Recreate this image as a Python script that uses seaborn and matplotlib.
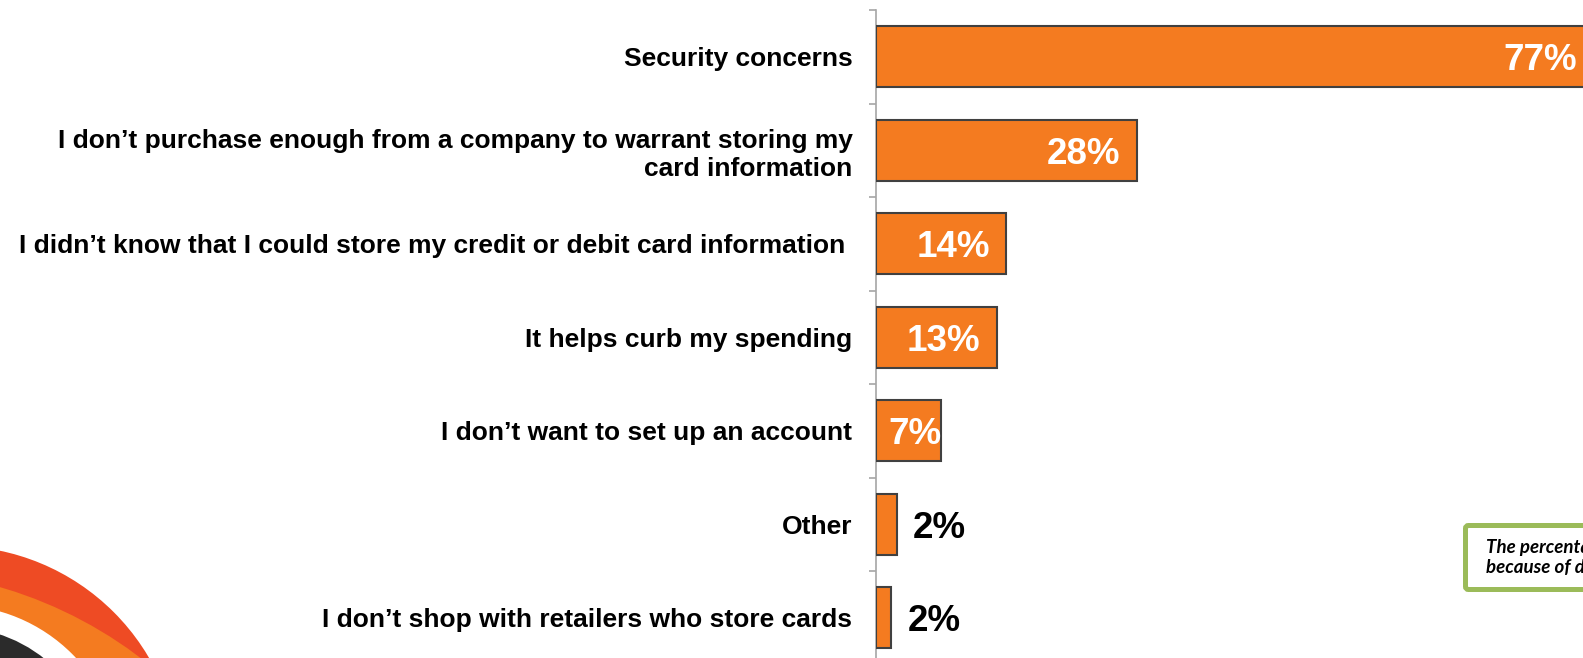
import numpy as np
import pandas as pd
import matplotlib
matplotlib.use("Agg")
import matplotlib.pyplot as plt
from matplotlib.patches import Circle, FancyBboxPatch
import seaborn as sns

# Survey answers: reasons for not storing card details with online retailers
reasons = [
    "Security concerns",
    "I don\u2019t purchase enough from a company to warrant storing my\ncard information",
    "I didn\u2019t know that I could store my credit or debit card information ",
    "It helps curb my spending",
    "I don\u2019t want to set up an account",
    "Other",
    "I don\u2019t shop with retailers who store cards",
]
shares = [77, 28, 14, 13, 7, 2.2, 1.6]

note_lines = ["The percentages add up to more than 100%",
              "because of duplicate responses"]

ORANGE = "#F47B20"
EDGE = "#404040"
AXIS_GREY = "#A6A6A6"
NOTE_GREEN = "#9BBB59"

sns.set_style("white")
plt.rcParams["font.family"] = ["Liberation Sans", "DejaVu Sans"]

W, H = 1583, 658
fig = plt.figure(figsize=(W / 100, H / 100), dpi=100)
fig.patch.set_facecolor("white")

# plot area: x = 0 sits at 876 px, 9.32 px per percentage point; rows 93.5 px apart
x0_px, px_per_pct, top_px, row_px = 876, 9.32, 10, 93.5
xmax = 80
ax_w = xmax * px_per_pct
ax_h = row_px * len(reasons)
ax = fig.add_axes([x0_px / W, 1 - (top_px + ax_h) / H, ax_w / W, ax_h / H])

df = pd.DataFrame({"reason": reasons, "share": shares})
sns.barplot(data=df, x="share", y="reason", orient="h", color=ORANGE,
            saturation=1, edgecolor=EDGE, linewidth=1.5, width=0.65, ax=ax)

ax.set_xlim(0, xmax)
ax.set_ylim(len(reasons) - 0.5, -0.5)
ax.set_xlabel("")
ax.set_ylabel("")
ax.set_xticks([])
for side in ("top", "right", "bottom"):
    ax.spines[side].set_visible(False)
ax.spines["left"].set_color(AXIS_GREY)
ax.spines["left"].set_linewidth(1.2)
ax.spines["left"].set_zorder(0.5)

ax.set_yticks(range(len(reasons)))
ax.set_yticks(np.arange(-0.5, len(reasons), 1.0), minor=True)
ax.tick_params(axis="y", which="major", left=False, length=0, pad=17)
ax.tick_params(axis="y", which="minor", left=True, length=5, width=1.2,
               color=AXIS_GREY, direction="out")
for lbl in ax.get_yticklabels():
    lbl.set_fontsize(19)
    lbl.set_fontweight("bold")
    lbl.set_color("black")

# value labels: inside the bar end for long bars, outside for short ones
VAL_SIZE = 26.5
for bar, v in zip(ax.patches, shares):
    yc = bar.get_y() + bar.get_height() / 2
    txt = f"{v:.0f}%"
    if v >= 10:
        ax.annotate(txt, (bar.get_width(), yc), xytext=(-12, 0),
                    textcoords="offset points", ha="right", va="center_baseline",
                    color="white", fontsize=VAL_SIZE, fontweight="bold")
    elif v >= 5:
        ax.annotate(txt, (0, yc), xytext=(9, 0),
                    textcoords="offset points", ha="left", va="center_baseline",
                    color="white", fontsize=VAL_SIZE, fontweight="bold")
    else:
        ax.annotate(txt, (bar.get_width(), yc), xytext=(12, 0),
                    textcoords="offset points", ha="left", va="center_baseline",
                    color="black", fontsize=VAL_SIZE, fontweight="bold")

# decoration layer in pixel units: corner logo and the footnote box
deco = fig.add_axes([0, 0, 1, 1], zorder=5)
deco.set_xlim(0, W)
deco.set_ylim(H, 0)
deco.axis("off")
deco.patch.set_visible(False)

deco.add_patch(Circle((-46, 772), 226, color="#EE4B24", lw=0))
deco.add_patch(Circle((-120, 1000), 430, color="#F47B20", lw=0))
deco.add_patch(Circle((-46, 772), 167, color="white", lw=0))
deco.add_patch(Circle((-46, 772), 145, color="#2B2B2B", lw=0))

deco.add_patch(FancyBboxPatch((1465.5, 525.5), 200, 64,
                              boxstyle="round,pad=0,rounding_size=3",
                              facecolor="white", edgecolor=NOTE_GREEN, lw=3.6))
deco.text(1486, 557.5, "\n".join(note_lines), ha="left", va="center",
          fontsize=13.5, fontweight="bold", fontstyle="italic",
          family=["Lato", "DejaVu Sans"], color="black", linespacing=1.15)

fig.savefig("out.png", dpi=100, facecolor="white")
